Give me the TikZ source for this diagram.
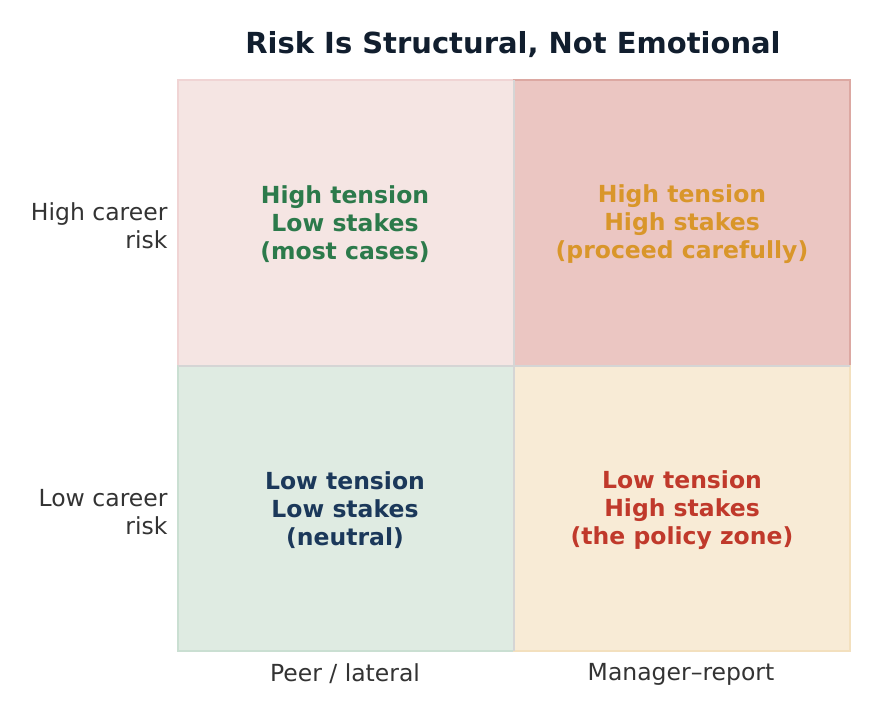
\documentclass[tikz,border=0pt]{standalone}
\usepackage{fontspec}
\setmainfont{DejaVu Sans}
\definecolor{ttl}{HTML}{111E2E}
\definecolor{lbl}{HTML}{333333}
\definecolor{fTL}{HTML}{F5E5E3}
\definecolor{dTL}{HTML}{F0D4D4}
\definecolor{fTR}{HTML}{EBC6C2}
\definecolor{dTR}{HTML}{DCA8A2}
\definecolor{fBL}{HTML}{DFEBE2}
\definecolor{dBL}{HTML}{CADFD2}
\definecolor{fBR}{HTML}{F8EBD6}
\definecolor{dBR}{HTML}{F3E0BE}
\definecolor{seam}{HTML}{D5D5D5}
\definecolor{cGreen}{HTML}{2C7A4B}
\definecolor{cOrange}{HTML}{D9962A}
\definecolor{cNavy}{HTML}{1B385A}
\definecolor{cRed}{HTML}{C0392B}
\begin{document}
\begin{tikzpicture}[x=1pt,y=-1pt,
  cell/.style={line width=1.5pt},
  qtext/.style={font=\fontsize{23.5}{28.2}\selectfont\bfseries, align=center},
  axlbl/.style={font=\fontsize{23.5}{28.2}\selectfont, text=lbl},
  ylbl/.style={axlbl, align=right, anchor=east}]
\useasboundingbox (0,0) rectangle (879,715);
\fill[white] (0,0) rectangle (879,715);
% cells
\draw[cell, fill=fTL, draw=dTL] (178,80) rectangle (514,366);
\draw[cell, fill=fTR, draw=dTR] (514,80) rectangle (850,366);
\draw[cell, fill=fBL, draw=dBL] (178,366) rectangle (514,651);
\draw[cell, fill=fBR, draw=dBR] (514,366) rectangle (850,651);
\coordinate (mt) at (514,80);
\coordinate (mb) at (514,651);
\coordinate (ml) at (178,366);
\coordinate (mr) at (850,366);
\draw[seam, line width=2.5pt] (mt) -- (mb);
\draw[seam, line width=2.5pt] (ml) -- (mr);
% title
\node[font=\fontsize{29}{34}\selectfont\bfseries, text=ttl] (title) at (513,45) {Risk Is Structural, Not Emotional};
% quadrant texts
\node[qtext, text=cGreen] (tl) at (345,224) {High tension\\Low stakes\\(most cases)};
\node[qtext, text=cOrange] (tr) at (682,224) {High tension\\High stakes\\(proceed carefully)};
\node[qtext, text=cNavy] (bl) at (345,510) {Low tension\\Low stakes\\(neutral)};
\node[qtext, text=cRed] (br) at (682,510) {Low tension\\High stakes\\(the policy zone)};
% axis labels
\node[ylbl] (yh) at (171,226) {High career\\risk};
\node[ylbl] (yl) at (171,512) {Low career\\risk};
\node[axlbl] (xp) at (345,674) {Peer / lateral};
\node[axlbl] (xm) at (681,674) {Manager–report};
\end{tikzpicture}
\end{document}
